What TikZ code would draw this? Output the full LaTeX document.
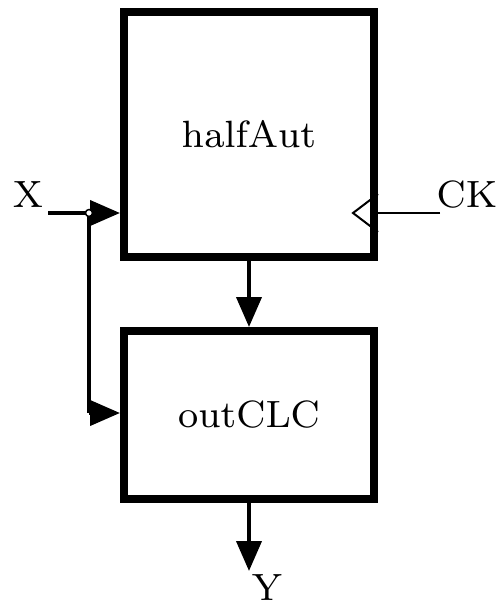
\documentclass[tikz,border=0pt]{standalone}
\usetikzlibrary{arrows.meta,calc}
\font\blockfont=cmr8 at 38pt
\begin{document}
\begin{tikzpicture}[x=1pt,y=-1pt,
  blockbox/.style={draw,line width=8pt,minimum width=250pt,inner sep=0pt,font=\blockfont},
  wire/.style={line width=4pt},
  arr/.style={wire,-{Triangle[length=30pt,width=25pt]}},
  lbl/.style={font=\blockfont,inner sep=0pt}]
\useasboundingbox (0,0) rectangle (502,607);
\node[blockbox,minimum height=245pt] (ha) at (249,134.5) {halfAut};
\node[blockbox,minimum height=168pt] (oc) at (249,415) {outCLC};
\node[lbl] (x) at (28,195) {X};
\node[lbl] (ck) at (467,195) {CK};
\node[lbl] (y) at (267,588) {Y};
\coordinate (xs) at (48,213);
\coordinate (j) at (89,213);
\coordinate (jb) at (89,413);
\coordinate (cke) at (440,213);
\draw[arr] (xs) -- (xs -| ha.west);
\draw[wire] (j) -- (jb);
\draw[arr] (jb) -- (jb -| oc.west);
\draw[line width=1.5pt,fill=white] (j) circle (3.5pt);
\draw[line width=2pt] (cke) -- (cke -| ha.east);
\draw[line width=2pt] ($(ha.east|-cke)+(0,-19)$) -- ++(-25,19) -- ++(25,19);
\draw[arr] (ha.south) -- (oc.north);
\coordinate (ye) at (249,571);
\draw[arr] (oc.south) -- (ye);
\end{tikzpicture}
\end{document}
